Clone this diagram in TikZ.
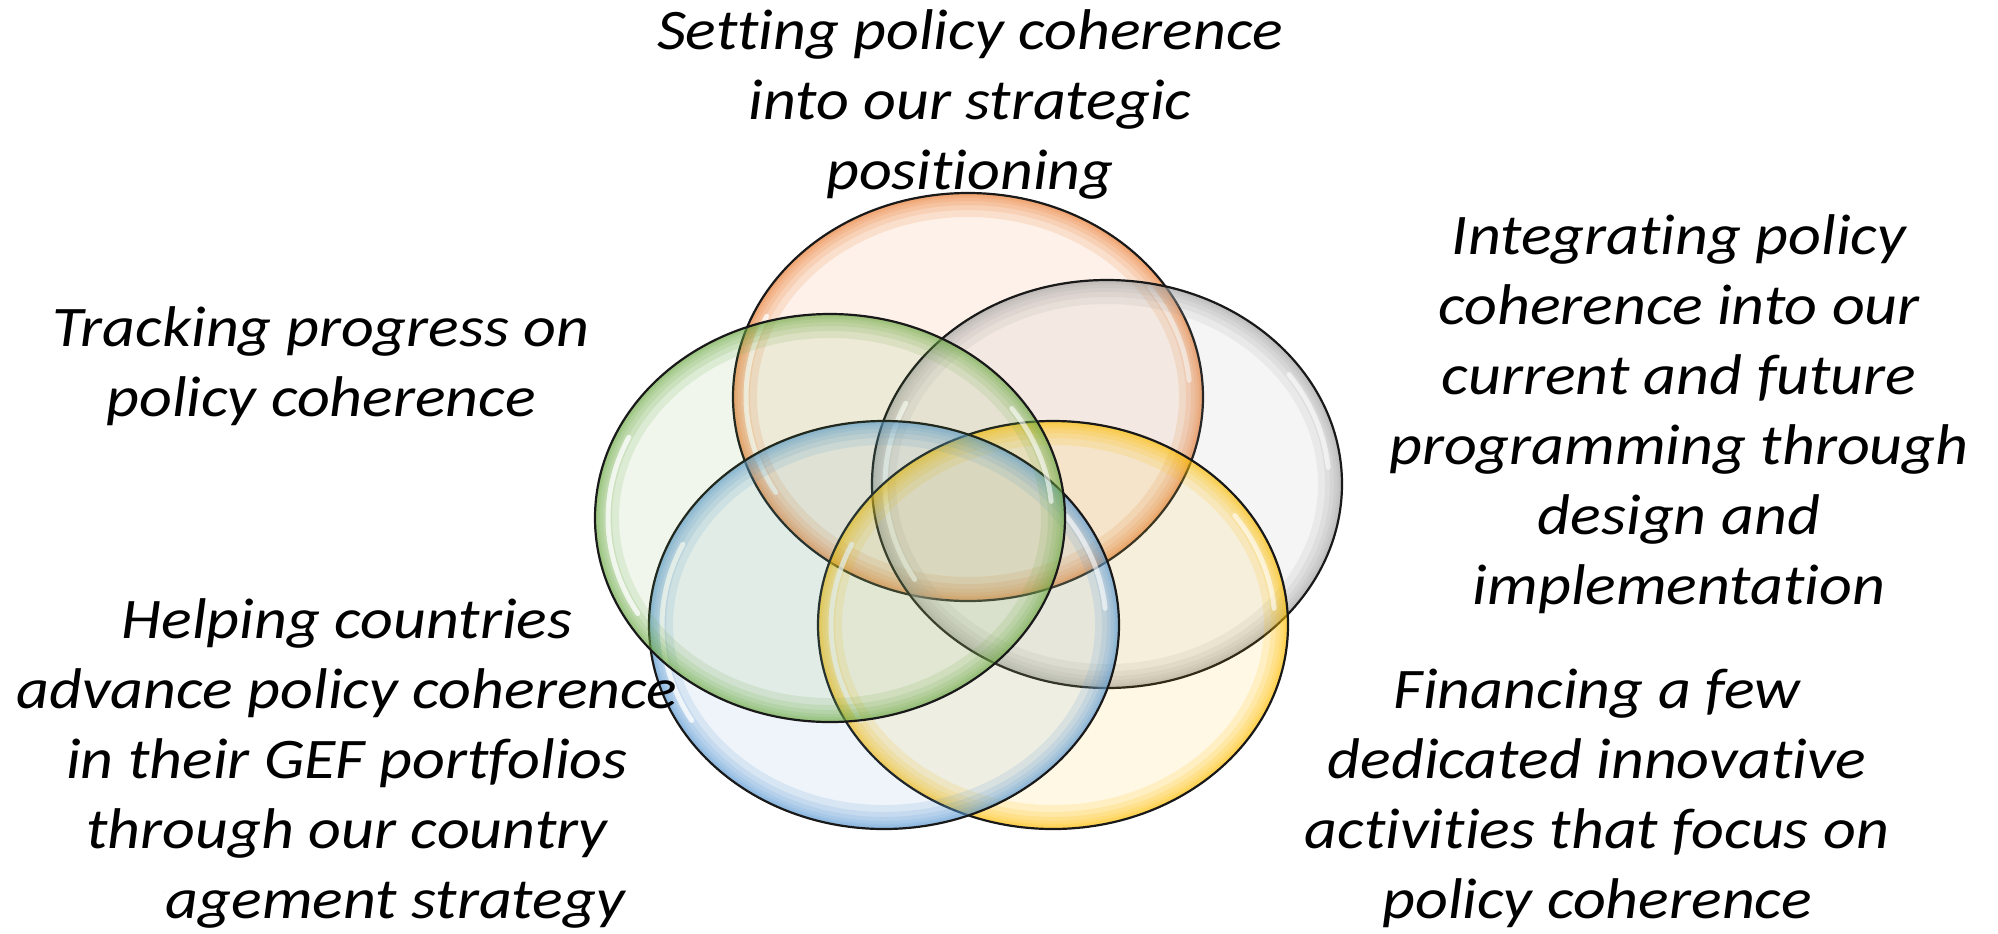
\documentclass[tikz,border=0pt]{standalone}
\usepackage{fontspec}
\setmainfont{Carlito}[FakeStretch=1.115, Ligatures=NoCommon]
\usetikzlibrary{calc}
\definecolor{orRim}{HTML}{ED7D31}
\definecolor{grRim}{HTML}{A5A5A5}
\definecolor{gnRim}{HTML}{70AD47}
\definecolor{blRim}{HTML}{5B9BD5}
\definecolor{ylRim}{HTML}{FFC000}
\tikzset{
  txt/.style={align=center, inner sep=0pt, font=\fontsize{28.7}{35}\selectfont\itshape},
  outline/.style={draw=black!90, line width=1.1pt},
}
\newcommand{\bubble}[3]{%
  \begin{scope}
    \clip (#1,#2) ellipse [x radius=235, y radius=204];
    \fill[#3, fill opacity=0.10] (#1,#2) ellipse [x radius=235, y radius=204];
    \foreach \w in {48,34,24,16,10,6}{
      \draw[#3, line width=\w*0.5pt, draw opacity=0.15] (#1,#2) ellipse [x radius=235, y radius=204];
    }
  \end{scope}
  \draw[white, line width=2.5pt, draw opacity=0.75, line cap=round]
    ($(#1,#2)+(150:222 and 191)$) arc[start angle=150, end angle=205, x radius=222, y radius=191];
  \draw[white, line width=2.5pt, draw opacity=0.6, line cap=round]
    ($(#1,#2)+(-5:222 and 191)$) arc[start angle=-5, end angle=-35, x radius=222, y radius=191];
  \draw[outline] (#1,#2) ellipse [x radius=235, y radius=204];
}
\begin{document}
\begin{tikzpicture}[x=0.5pt, y=-0.5pt]
\useasboundingbox (0,0) rectangle (1998,933);
\fill[white] (0,0) rectangle (1998,933);
% bubbles
\bubble{968}{397}{orRim}
\bubble{1107}{484}{grRim}
\bubble{1053}{625}{ylRim}
\bubble{884}{625}{blRim}
\bubble{830}{518}{gnRim}
% texts
\node[txt] (setting) at (970,104) {Setting policy coherence\\into our strategic\\positioning};
\node[txt] (tracking) at (321,366) {Tracking progress on\\policy coherence};
\node[txt] (integrating) at (1679,414) {Integrating policy\\coherence into our\\current and future\\programming through\\design and\\implementation};
\node[txt] (financing) at (1597,798) {Financing a few\\dedicated innovative\\activities that focus on\\policy coherence};
\node[txt] (helping) at (347,763) {Helping countries\\advance policy coherence\\in their GEF portfolios\\through our country\\engagement strategy};
\fill[white] (0,866) rectangle (164,933);
\end{tikzpicture}
\end{document}
